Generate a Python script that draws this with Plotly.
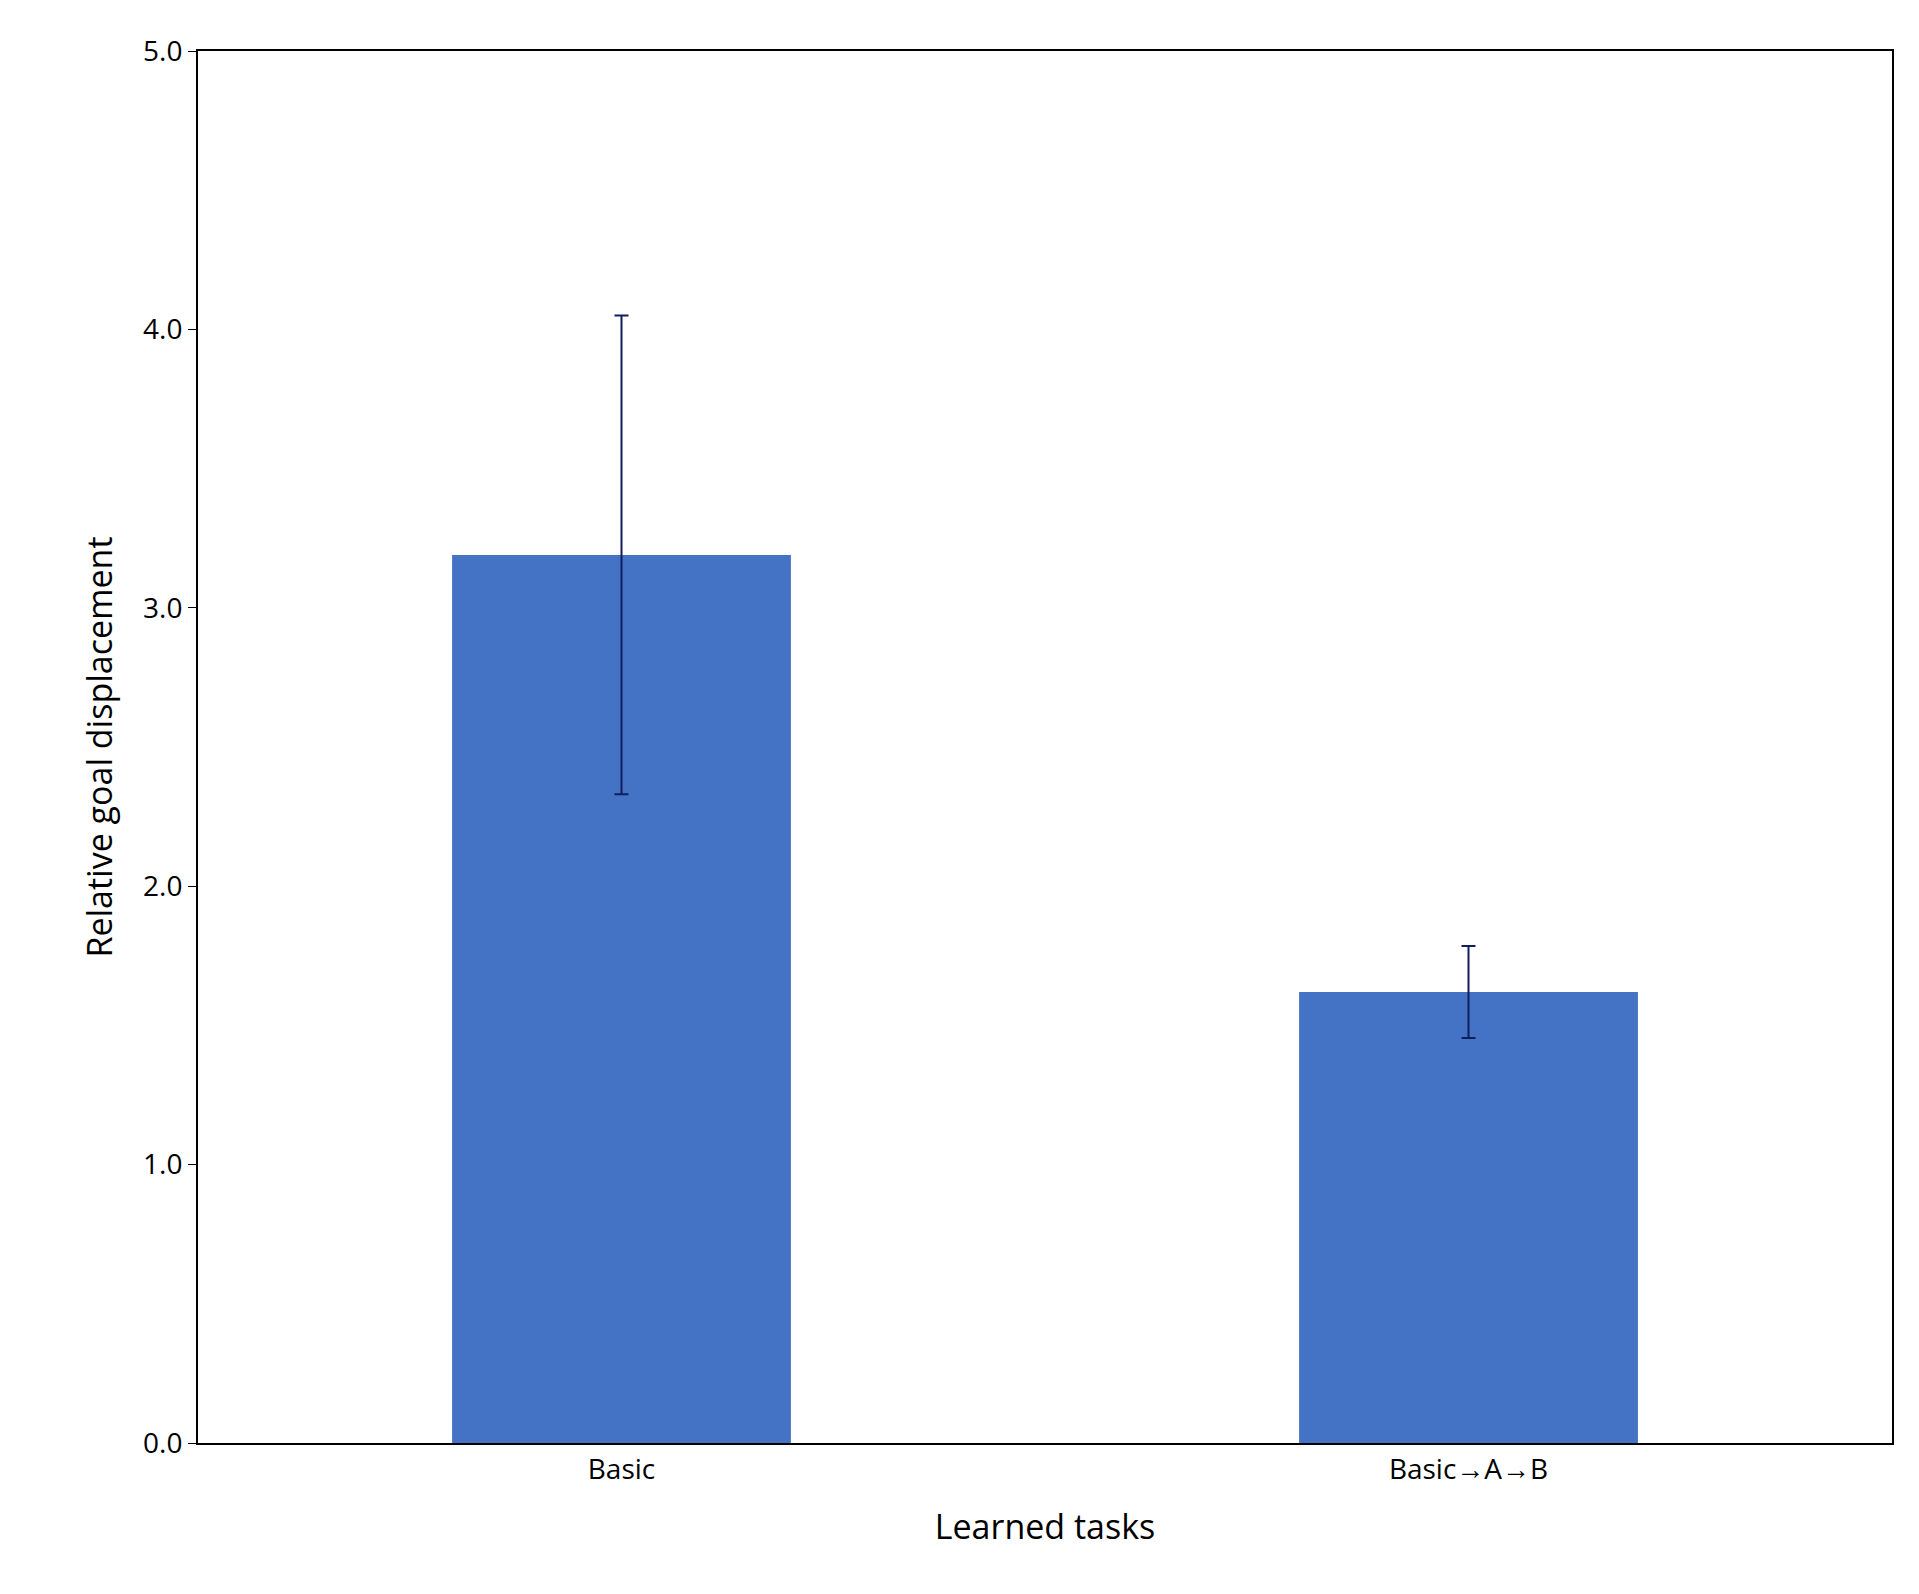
import plotly.graph_objects as go

categories = ["Basic", "Basic→A→B"]
values = [3.19, 1.62]
errors = [0.86, 0.165]

fig = go.Figure()
fig.add_trace(
    go.Bar(
        x=categories,
        y=values,
        width=0.4,
        marker=dict(color="#4472C4", line=dict(width=0)),
        error_y=dict(type="data", array=errors, color="#0E1F5B", thickness=2, width=7),
    )
)

font = "Open Sans, Liberation Sans, sans-serif"
fig.update_layout(
    width=1919,
    height=1594,
    margin=dict(l=190, r=35, t=43, b=159),
    plot_bgcolor="white",
    paper_bgcolor="white",
    showlegend=False,
    font=dict(family=font, size=28, color="black"),
)
fig.update_xaxes(
    title=dict(text="Learned tasks", font=dict(size=34), standoff=30),
    showline=True, linecolor="black", linewidth=2, mirror=True,
    ticks="", tickfont=dict(size=28),
)
fig.update_yaxes(
    title=dict(text="Relative goal displacement", font=dict(size=34), standoff=20),
    range=[0, 5], tickvals=[0, 1, 2, 3, 4, 5], tickformat=".1f",
    showline=True, linecolor="black", linewidth=2, mirror=True,
    showgrid=False, zeroline=False, ticks="outside", ticklen=8, tickcolor="black",
)
fig.write_html("out.html")
